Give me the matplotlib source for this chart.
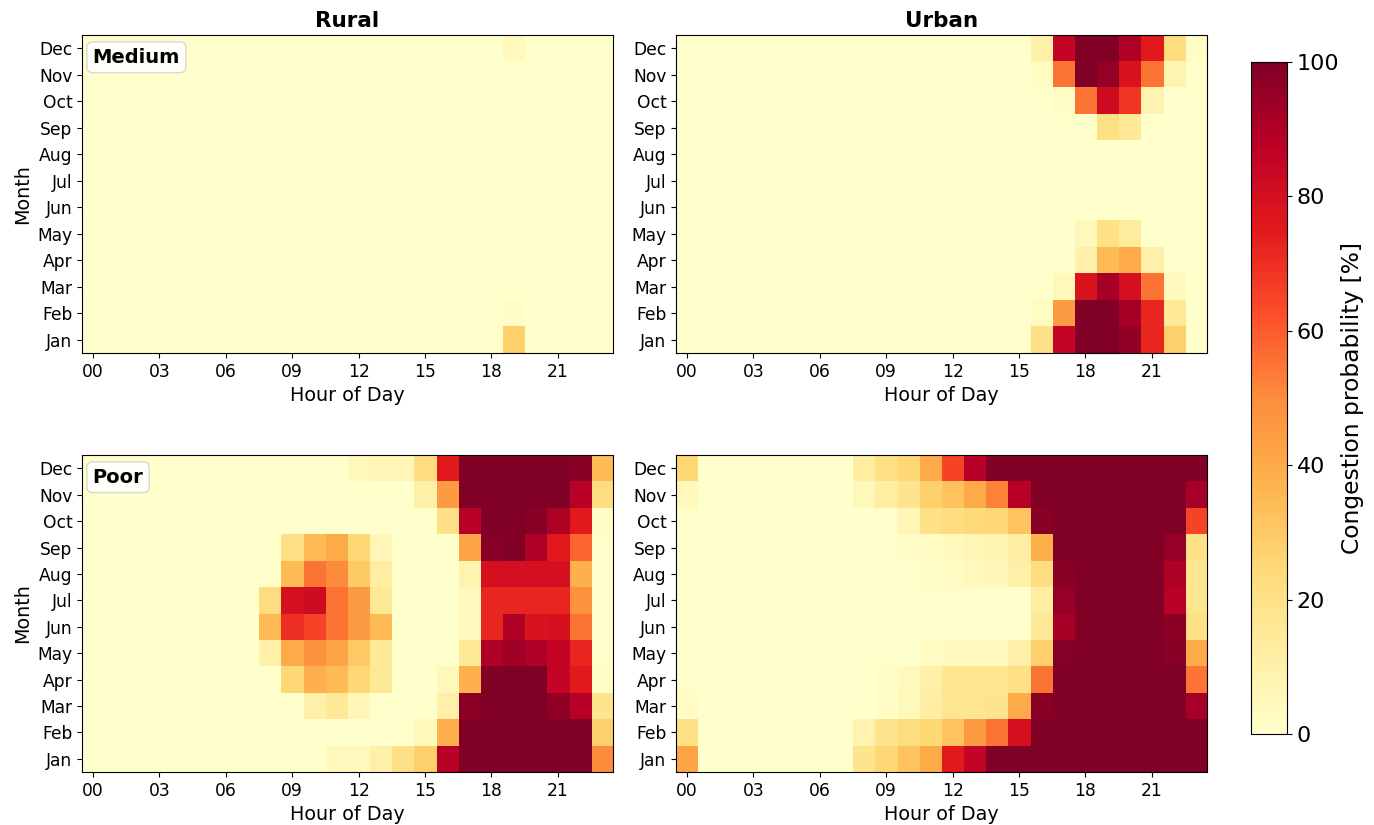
import matplotlib
matplotlib.use("Agg")
import matplotlib.pyplot as plt
import numpy as np

months = ["Jan", "Feb", "Mar", "Apr", "May", "Jun", "Jul", "Aug", "Sep", "Oct", "Nov", "Dec"]
hour_ticks = [0, 3, 6, 9, 12, 15, 18, 21]
hour_labels = ["00", "03", "06", "09", "12", "15", "18", "21"]

#* congestion probability [%], rows Jan..Dec, columns hour 0..23
rural_medium = [
    [0,0,0,0,0,0, 0,0,0,0,0,0, 0,0,0,0,0,0, 0,28,0,0,0,0],
    [0,0,0,0,0,0, 0,0,0,0,0,0, 0,0,0,0,0,0, 0,2,0,0,0,0],
    [0,0,0,0,0,0, 0,0,0,0,0,0, 0,0,0,0,0,0, 0,0,0,0,0,0],
    [0,0,0,0,0,0, 0,0,0,0,0,0, 0,0,0,0,0,0, 0,0,0,0,0,0],
    [0,0,0,0,0,0, 0,0,0,0,0,0, 0,0,0,0,0,0, 0,0,0,0,0,0],
    [0,0,0,0,0,0, 0,0,0,0,0,0, 0,0,0,0,0,0, 0,0,0,0,0,0],
    [0,0,0,0,0,0, 0,0,0,0,0,0, 0,0,0,0,0,0, 0,0,0,0,0,0],
    [0,0,0,0,0,0, 0,0,0,0,0,0, 0,0,0,0,0,0, 0,0,0,0,0,0],
    [0,0,0,0,0,0, 0,0,0,0,0,0, 0,0,0,0,0,0, 0,0,0,0,0,0],
    [0,0,0,0,0,0, 0,0,0,0,0,0, 0,0,0,0,0,0, 0,0,0,0,0,0],
    [0,0,0,0,0,0, 0,0,0,0,0,0, 0,0,0,0,0,0, 0,0,0,0,0,0],
    [0,0,0,0,0,0, 0,0,0,0,0,0, 0,0,0,0,0,0, 0,4,0,0,0,0],
]

urban_medium = [
    [0,0,0,0,0,0, 0,0,0,0,0,0, 0,0,1,1,20,85, 100,100,96,72,28,1],
    [0,0,0,0,0,0, 0,0,0,0,0,0, 0,0,0,0,3,45, 100,100,92,72,15,0],
    [0,0,0,0,0,0, 0,0,0,0,0,0, 0,0,0,0,0,5, 78,92,80,55,4,0],
    [0,0,0,0,0,0, 0,0,0,0,0,0, 0,0,0,0,0,0, 10,35,40,10,0,0],
    [0,0,0,0,0,0, 0,0,0,0,0,0, 0,0,0,0,0,0, 5,20,13,0,0,0],
    [0,0,0,0,0,0, 0,0,0,0,0,0, 0,0,0,0,0,0, 0,0,0,0,0,0],
    [0,0,0,0,0,0, 0,0,0,0,0,0, 0,0,0,0,0,0, 0,0,0,0,0,0],
    [0,0,0,0,0,0, 0,0,0,0,0,0, 0,0,0,0,0,0, 0,0,0,0,0,0],
    [0,0,0,0,0,0, 0,0,0,0,0,0, 0,0,0,0,0,0, 0,20,15,0,0,0],
    [0,0,0,0,0,0, 0,0,0,0,0,0, 0,0,0,0,0,2, 55,82,68,8,0,0],
    [0,0,0,0,0,0, 0,0,0,0,0,0, 0,0,0,0,3,55, 100,95,78,55,8,0],
    [0,0,0,0,0,0, 0,0,0,0,0,0, 0,0,0,0,10,85, 100,100,90,75,22,2],
]

rural_poor = [
    [0,0,0,0,0,0, 0,0,0,0,0,4, 4,10,20,28,88,100, 100,100,100,100,100,50],
    [0,0,0,0,0,0, 0,0,0,0,0,0, 0,0,0,5,38,100, 100,100,100,100,100,28],
    [0,0,0,0,0,0, 0,0,0,0,10,15, 6,0,0,0,10,97, 100,100,100,96,88,18],
    [0,0,0,0,0,0, 0,0,0,25,38,35, 25,15,0,0,5,38, 100,100,100,85,75,2],
    [0,0,0,0,0,0, 0,0,10,40,48,42, 30,15,0,0,0,15, 90,93,90,85,72,1],
    [0,0,0,0,0,0, 0,0,35,70,65,55, 45,35,0,0,0,4, 72,90,78,80,55,1],
    [0,0,0,0,0,0, 0,0,22,80,82,55, 45,15,0,0,0,4, 72,72,72,72,48,1],
    [0,0,0,0,0,0, 0,0,0,35,55,50, 30,12,0,0,0,8, 80,80,80,80,38,1],
    [0,0,0,0,0,0, 0,0,0,20,35,40, 25,6,0,0,0,42, 98,100,90,75,58,1],
    [0,0,0,0,0,0, 0,0,0,0,0,0, 0,0,0,0,20,88, 100,100,98,90,75,2],
    [0,0,0,0,0,0, 0,0,0,0,0,0, 0,0,0,10,45,100, 100,100,100,100,88,22],
    [0,0,0,0,0,0, 0,0,0,0,0,0, 5,6,6,22,75,100, 100,100,100,100,98,35],
]

urban_poor = [
    [42,0,0,0,0,0, 0,0,18,25,32,40, 75,85,100,100,100,100, 100,100,100,100,100,100],
    [20,0,0,0,0,0, 0,0,8,18,22,25, 32,45,55,80,100,100, 100,100,100,100,100,100],
    [3,0,0,0,0,0, 0,0,0,2,5,12, 17,17,18,40,98,100, 100,100,100,100,100,92],
    [1,0,0,0,0,0, 0,0,0,2,4,10, 17,17,17,20,55,100, 100,100,100,100,100,55],
    [0,0,0,0,0,0, 0,0,0,0,0,3, 4,4,4,10,28,99, 100,100,100,100,98,40],
    [0,0,0,0,0,0, 0,0,0,0,0,0, 0,0,0,0,15,92, 100,100,100,100,97,20],
    [0,0,0,0,0,0, 0,0,0,0,1,1, 1,1,1,1,12,95, 100,100,100,100,88,17],
    [0,0,0,0,0,0, 0,0,0,0,0,2, 3,4,6,10,22,98, 100,100,100,100,90,17],
    [0,0,0,0,0,0, 0,0,0,0,2,3, 4,7,8,12,38,100, 100,100,100,100,95,20],
    [1,0,0,0,0,0, 0,0,0,1,7,20, 22,24,25,32,98,100, 100,100,100,100,100,65],
    [5,0,0,0,0,0, 0,0,5,12,18,28, 32,40,52,88,100,100, 100,100,100,100,100,92],
    [25,0,0,0,0,0, 0,0,12,20,25,40, 65,88,100,100,100,100, 100,100,100,100,100,100],
]

fig = plt.figure(figsize=(13.74, 8.25), dpi=100)

#* axes positions in figure fractions
ax_rm = fig.add_axes([0.0597, 0.572, 0.3865, 0.3855])
ax_um = fig.add_axes([0.492, 0.572, 0.3865, 0.3855])
ax_rp = fig.add_axes([0.0597, 0.0642, 0.3865, 0.3842])
ax_up = fig.add_axes([0.492, 0.0642, 0.3865, 0.3842])
cax = fig.add_axes([0.9105, 0.1103, 0.0262, 0.8145])

panels = [
    (ax_rm, rural_medium, "Rural", "Medium", True),
    (ax_um, urban_medium, "Urban", None, False),
    (ax_rp, rural_poor, None, "Poor", True),
    (ax_up, urban_poor, None, None, False),
]

for ax, data, title, tag, left in panels:
    im = ax.imshow(np.array(data), origin="lower", aspect="auto",
                   cmap="YlOrRd", vmin=0, vmax=100, interpolation="nearest")
    ax.set_xticks(hour_ticks)
    ax.set_xticklabels(hour_labels)
    ax.set_yticks(range(12))
    ax.set_yticklabels(months)
    ax.tick_params(labelsize=12.3)
    ax.set_xlabel("Hour of Day", fontsize=13.75)
    if left:
        ax.set_ylabel("Month", fontsize=13.75)
    if title:
        ax.set_title(title, fontsize=15.5, fontweight="bold", pad=6)
    if tag:
        ax.text(0.02, 0.96, tag, transform=ax.transAxes, fontsize=14,
                fontweight="bold", ha="left", va="top",
                bbox=dict(boxstyle="round,pad=0.3", fc="white", ec="lightgray", alpha=0.9))

cb = fig.colorbar(im, cax=cax)
cb.set_label("Congestion probability [%]", fontsize=16.8, labelpad=1)
cb.ax.tick_params(labelsize=16)
cb.set_ticks([0, 20, 40, 60, 80, 100])

fig.savefig("out.png", dpi=100)
